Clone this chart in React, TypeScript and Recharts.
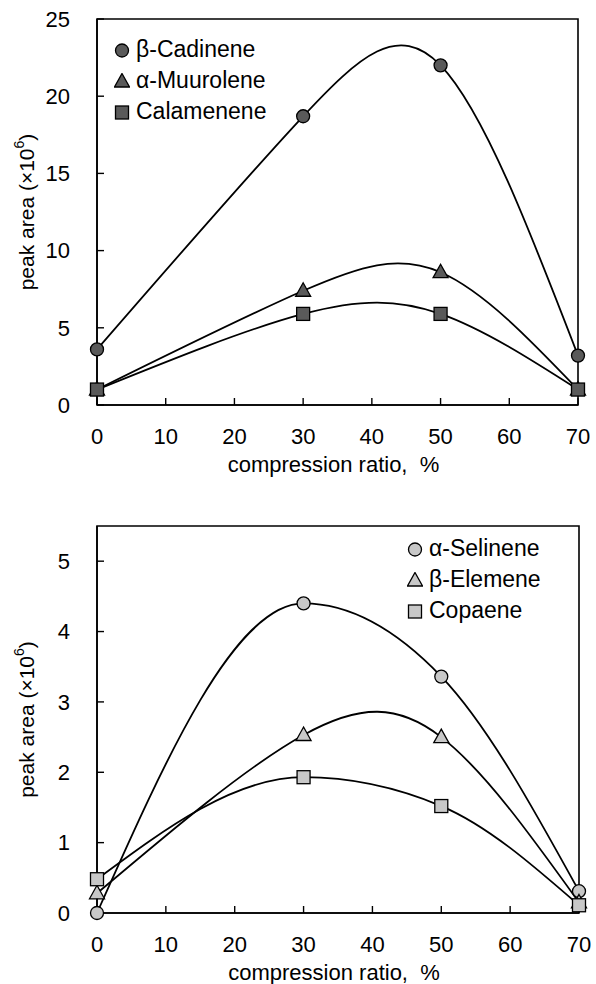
import React from "react";
import { LineChart, Line, XAxis, YAxis, ReferenceArea, Legend } from "recharts";

// compression ratio (%) where samples were measured
const ratio = [0, 30, 50, 70];
const xTicks = [0, 10, 20, 30, 40, 50, 60, 70];

// upper panel, peak area x10^6
const cadinene = [3.6, 18.7, 22.0, 3.2];
const muurolene = [1.0, 7.4, 8.6, 1.0];
const calamenene = [1.0, 5.9, 5.9, 1.0];
const topTicks = [0, 5, 10, 15, 20, 25];

// lower panel, peak area x10^6
const selinene = [0.0, 4.4, 3.36, 0.31];
const elemene = [0.28, 2.53, 2.5, 0.15];
const copaene = [0.48, 1.93, 1.52, 0.11];
const bottomTicks = [0, 1, 2, 3, 4, 5];

const FONT = '"Liberation Sans", Arial, sans-serif';

const topData = ratio.map((r, i) => ({
  ratio: r,
  cadinene: cadinene[i],
  muurolene: muurolene[i],
  calamenene: calamenene[i],
}));

const bottomData = ratio.map((r, i) => ({
  ratio: r,
  selinene: selinene[i],
  elemene: elemene[i],
  copaene: copaene[i],
}));

type Shape = "circle" | "triangle" | "square";

interface Series {
  key: string;
  name: string;
  shape: Shape;
  curve: "natural" | "monotone";
}

const topSeries: Series[] = [
  { key: "cadinene", name: "β-Cadinene", shape: "circle", curve: "natural" },
  { key: "muurolene", name: "α-Muurolene", shape: "triangle", curve: "natural" },
  { key: "calamenene", name: "Calamenene", shape: "square", curve: "natural" },
];

const bottomSeries: Series[] = [
  { key: "selinene", name: "α-Selinene", shape: "circle", curve: "monotone" },
  { key: "elemene", name: "β-Elemene", shape: "triangle", curve: "natural" },
  { key: "copaene", name: "Copaene", shape: "square", curve: "monotone" },
];

function Marker({ shape, cx, cy, fill }: { shape: Shape; cx: number; cy: number; fill: string }) {
  const common = { fill, stroke: "#000", strokeWidth: 1.3 };
  if (shape === "circle") return <circle cx={cx} cy={cy} r={6.5} {...common} />;
  if (shape === "square") return <rect x={cx - 6.5} y={cy - 6.5} width={13} height={13} {...common} />;
  return <polygon points={`${cx},${cy - 8} ${cx + 7.5},${cy + 5.5} ${cx - 7.5},${cy + 5.5}`} {...common} />;
}

function YLabel({ viewBox }: any) {
  const x = viewBox.x + 28;
  const y = viewBox.y + viewBox.height / 2;
  return (
    <text
      x={x}
      y={y}
      transform={`rotate(-90 ${x} ${y})`}
      textAnchor="middle"
      dominantBaseline="middle"
      fontFamily={FONT}
      fontSize={21}
      fill="#000"
    >
      <tspan>peak area (×10</tspan>
      <tspan dy={-8} fontSize={14}>6</tspan>
      <tspan dy={8}>)</tspan>
    </text>
  );
}

function XLabel({ viewBox }: any) {
  return (
    <text
      x={viewBox.x + viewBox.width / 2 - 4}
      y={viewBox.y + 61}
      textAnchor="middle"
      dominantBaseline="middle"
      fontFamily={FONT}
      fontSize={22}
      fill="#000"
      xmlSpace="preserve"
    >
      compression ratio,  %
    </text>
  );
}

interface PanelProps {
  data: any[];
  series: Series[];
  height: number;
  top: number;
  margin: { top: number; right: number; bottom: number; left: number };
  yMax: number;
  yTicks: number[];
  fill: string;
  legendPos: { top: number; left: number };
}

function Panel({ data, series, height, top, margin, yMax, yTicks, fill, legendPos }: PanelProps) {
  const shapeOf = (k: string) => series.find((s) => s.key === k)?.shape ?? "circle";
  const orderOf = (item: any) => series.findIndex((s) => s.key === item.dataKey);
  return (
    <div style={{ position: "absolute", left: 0, top }}>
      <LineChart width={596} height={height} data={data} margin={margin}>
        <XAxis
          dataKey="ratio"
          type="number"
          domain={[0, 70]}
          ticks={xTicks}
          height={71}
          tickSize={-7}
          tickMargin={30}
          fontSize={22}
          axisLine={{ stroke: "#000", strokeWidth: 1.6 }}
          tickLine={{ stroke: "#000", strokeWidth: 1.4 }}
          tick={{ fill: "#000", fontSize: 22, fontFamily: FONT }}
          label={{ content: XLabel }}
        />
        <YAxis
          type="number"
          domain={[0, yMax]}
          ticks={yTicks}
          width={97}
          tickSize={-7}
          tickMargin={34}
          fontSize={22}
          axisLine={{ stroke: "#000", strokeWidth: 1.6 }}
          tickLine={{ stroke: "#000", strokeWidth: 1.4 }}
          tick={{ fill: "#000", fontSize: 22, fontFamily: FONT }}
          label={{ content: YLabel }}
        />
        <ReferenceArea x1={0} x2={70} y1={0} y2={yMax} fill="none" stroke="#000" strokeWidth={1.6} />
        <Legend
          layout="vertical"
          align="center"
          verticalAlign="middle"
          itemSorter={orderOf}
          wrapperStyle={{ top: legendPos.top, left: legendPos.left, width: "auto" }}
          content={({ payload }: any) => (
            <div style={{ fontFamily: FONT, fontSize: 23, color: "#000" }}>
              {[...(payload ?? [])]
                .sort((a: any, b: any) => orderOf(a) - orderOf(b))
                .map((p: any) => (
                  <div key={p.value} style={{ display: "flex", alignItems: "center", height: 31 }}>
                    <svg width={16} height={16} style={{ marginRight: 6 }}>
                      <Marker shape={shapeOf(p.dataKey)} cx={8} cy={8.5} fill={fill} />
                    </svg>
                    <span>{p.value}</span>
                  </div>
                ))}
            </div>
          )}
        />
        {series.map((s) => (
          <Line
            key={s.key}
            dataKey={s.key}
            name={s.name}
            type={s.curve}
            stroke="#000"
            strokeWidth={1.8}
            isAnimationActive={false}
            activeDot={false}
            dot={(p: any) => (
              <Marker key={`${s.key}-${p.index}`} shape={s.shape} cx={p.cx} cy={p.cy} fill={fill} />
            )}
          />
        ))}
      </LineChart>
    </div>
  );
}

export default function App() {
  return (
    <div style={{ position: "absolute", left: 0, top: 0, width: 596, height: 984, background: "#fff" }}>
      <Panel
        data={topData}
        series={topSeries}
        height={490}
        top={0}
        margin={{ top: 19, right: 18, bottom: 14, left: 0 }}
        yMax={25}
        yTicks={topTicks}
        fill="#5a5a5a"
        legendPos={{ top: 34, left: 114 }}
      />
      <Panel
        data={bottomData}
        series={bottomSeries}
        height={484}
        top={500}
        margin={{ top: 26, right: 17, bottom: 0, left: 0 }}
        yMax={5.5}
        yTicks={bottomTicks}
        fill="#c8c8c8"
        legendPos={{ top: 33, left: 407 }}
      />
    </div>
  );
}
